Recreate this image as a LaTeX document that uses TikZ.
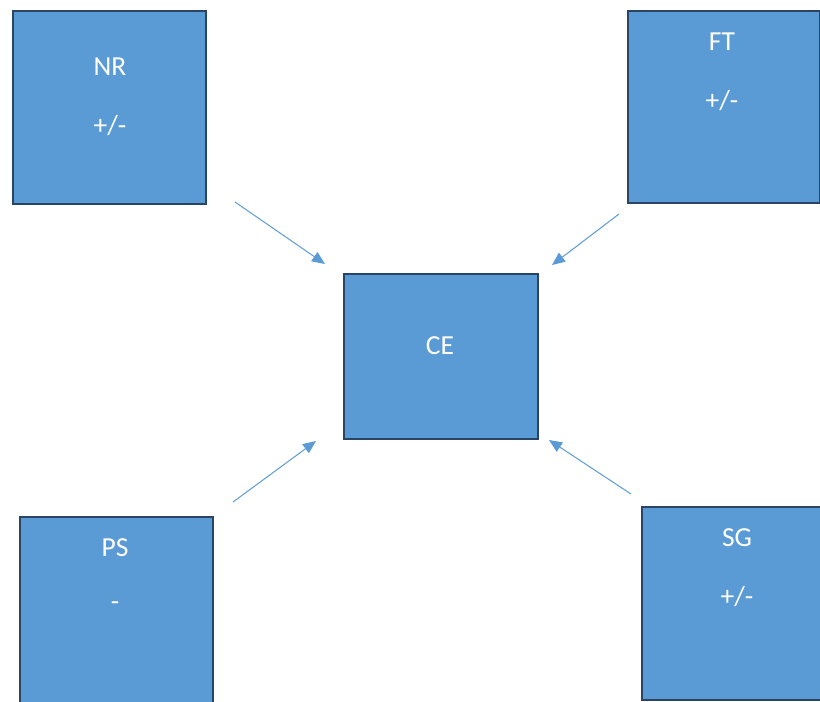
\documentclass[tikz,border=0pt]{standalone}
\usepackage{fontspec}
\setmainfont{Carlito}
\usetikzlibrary{arrows.meta}
\definecolor{boxfill}{HTML}{5B9BD5}
\definecolor{boxline}{HTML}{2A4563}
\begin{document}
\begin{tikzpicture}[x=1pt,y=-1pt,
  box/.style={draw=boxline,line width=2pt,fill=boxfill,anchor=north west,inner sep=0pt},
  lbl/.style={text=white,font=\fontsize{27.5}{32}\selectfont,inner sep=0pt},
  conn/.style={draw=boxfill,line width=1pt,-{Triangle[length=13pt,width=11pt]}}]
\useasboundingbox (0,0) rectangle (820,702);
\clip (0,0) rectangle (820,702);
% boxes
\node[box,minimum width=193pt,minimum height=193pt] (nr) at (12,9.5) {};
\node[box,minimum width=192pt,minimum height=192pt] (ft) at (626.5,10) {};
\node[box,minimum width=194pt,minimum height=165pt] (ce) at (343,273) {};
\node[box,minimum width=193pt,minimum height=194pt] (ps) at (18.5,515.5) {};
\node[box,minimum width=194pt,minimum height=193pt] (sg) at (640.5,506) {};
% labels
\node[lbl] (nr1) at (110,67) {NR};
\node[lbl] (nr2) at (110,126) {+/-};
\node[lbl] (ft1) at (722,42) {FT};
\node[lbl] (ft2) at (722,101) {+/-};
\node[lbl] (ce1) at (440,346) {CE};
\node[lbl] (ps1) at (115,548) {PS};
\node[lbl] (ps2) at (115,606) {-};
\node[lbl] (sg1) at (737,538) {SG};
\node[lbl] (sg2) at (737,597) {+/-};
% arrows
\coordinate (a1s) at (235,202);
\coordinate (a1e) at (325,264);
\coordinate (a2s) at (619,214);
\coordinate (a2e) at (552,265);
\coordinate (a3s) at (233,502);
\coordinate (a3e) at (316,441);
\coordinate (a4s) at (631,494);
\coordinate (a4e) at (549,440);
\draw[conn] (a1s) -- (a1e);
\draw[conn] (a2s) -- (a2e);
\draw[conn] (a3s) -- (a3e);
\draw[conn] (a4s) -- (a4e);
\end{tikzpicture}
\end{document}
